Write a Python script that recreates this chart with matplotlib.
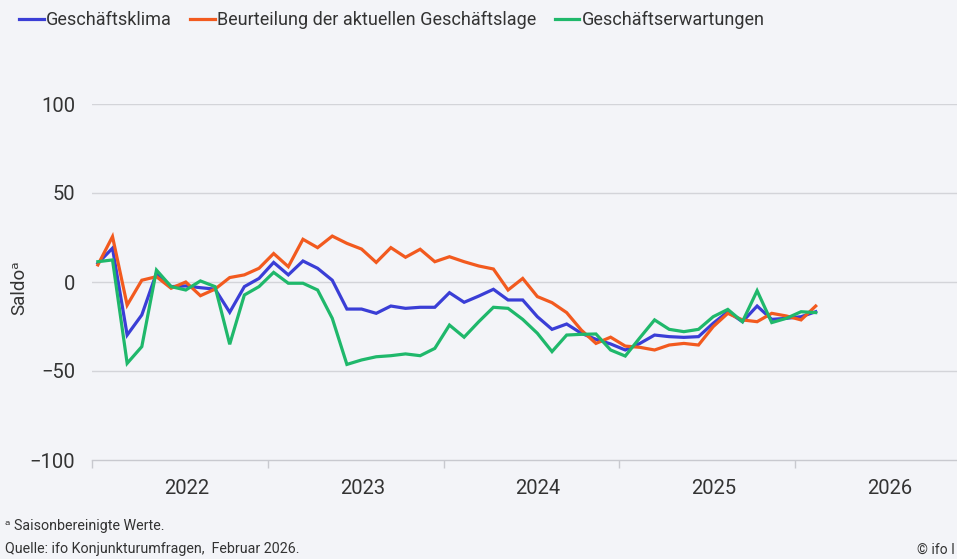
import matplotlib
matplotlib.use("Agg")
import matplotlib.pyplot as plt
import numpy as np

plt.rcParams['font.family'] = ['Roboto', 'DejaVu Sans']

# Monthly values Jan 2022 .. Feb 2026
klima = [10.5, 19, -29.8, -18.5, 5.0, -2.6, -2.2, -3.2, -4, -17, -2.6, 2,
         11, 4, 11.8, 7.7, 1, -15.2, -15.2, -17.6, -13.5, -14.8, -14.2, -14.2,
         -6, -11.4, -7.9, -4.1, -10.1, -10.1, -19.5, -26.6, -23.6, -28.8, -32.2, -34.8,
         -38.2, -34.5, -29.8, -30.7, -31.1, -30.7, -23.2, -16.7, -22.3, -13.5, -21, -20.4,
         -19.5, -16.7]
lage = [9.6, 25.5, -13, 1, 3, -3.5, 0, -7.7, -4, 2.5, 4, 7.7,
        16, 8.6, 24, 19.3, 25.8, 21.7, 18.5, 11, 19.3, 13.9, 18.4, 11.4,
        14.2, 11.4, 9, 7.3, -4.5, 2, -8.2, -11.6, -17.2, -27, -34.5, -31,
        -36, -36.7, -38.2, -35.4, -34.5, -35.4, -25.1, -17.6, -21.3, -22.3, -17.6, -19.1,
        -21.3, -13.5]
erwartungen = [11.4, 12.4, -45.7, -36.3, 6.7, -2.6, -4.5, 0.6, -2.6, -35, -7.3, -2.6,
               5.4, -0.7, -0.7, -4.5, -20.4, -46.3, -43.8, -42, -41.4, -40.4, -41.4, -37.3,
               -24.2, -31, -22.3, -14.2, -14.8, -21, -28.8, -39.1, -29.8, -29.4, -29.2, -38.2,
               -41.6, -31.3, -21.3, -26.6, -27.9, -26.6, -19.5, -15.4, -22.3, -4.9, -22.8, -20.4,
               -16.7, -17.2]
series_names = ["Geschäftsklima", "Beurteilung der aktuellen Geschäftslage", "Geschäftserwartungen"]
years = ["2022", "2023", "2024", "2025", "2026"]
yticks = [-100, -50, 0, 50, 100]

colors = ["#3a3ed6", "#f25a1f", "#1fb86b"]
bg = "#f3f4f8"

fig = plt.figure(figsize=(9.57, 5.59), dpi=100, facecolor=bg)
ax = fig.add_axes([92/957, 99/559, 879/957, 356/559], facecolor=bg)

x = np.arange(len(klima)) + 0.4
for vals, name, c in zip([klima, lage, erwartungen], series_names, colors):
    ax.plot(x, vals, color=c, lw=2.3, label=name, solid_joinstyle='miter')

ax.set_xlim(0, 60)
ax.set_ylim(-100, 100)
for s in ['top', 'right', 'left']:
    ax.spines[s].set_visible(False)
ax.spines['bottom'].set_color('#c8c9cf')
ax.spines['bottom'].set_linewidth(1.0)

ax.set_yticks(yticks)
ax.set_yticklabels([str(v).replace('-', '−') for v in yticks], fontsize=14.5, color='#333333')
ax.tick_params(axis='y', length=0, pad=12)
for v in yticks[1:]:
    ax.axhline(v, color='#d3d4d9', lw=1.0, zorder=0)

ax.set_xticks([0, 12, 24, 36, 48])
ax.set_xticklabels([])
ax.tick_params(axis='x', which='major', length=6, color='#c8c9cf', width=1.0)
ax.set_xticks([6.45, 18.45, 30.45, 42.45, 54.45], minor=True)
ax.set_xticklabels(years, minor=True, fontsize=14.5, color='#333333')
ax.tick_params(axis='x', which='minor', length=0, pad=14)

fig.text(19/957, 1 - 288/559, "Saldoᵃ", rotation=90, ha='center', va='center',
         fontsize=13.5, color='#333333')

leg = fig.legend(loc='upper left', bbox_to_anchor=(12/957, 1 - 4/559), ncol=3, frameon=False,
                 fontsize=13, handlelength=1.35, handletextpad=0.15, columnspacing=1.0,
                 borderaxespad=0)
for t in leg.get_texts():
    t.set_color('#333333')

fig.text(5/957, 1 - 526/559, "ᵃ Saisonbereinigte Werte.", fontsize=10.3, va='center', color='#333333')
fig.text(5/957, 1 - 549/559, "Quelle: ifo Konjunkturumfragen,  Februar 2026.", fontsize=10.3,
         va='center', color='#333333')
fig.text(955/957, 1 - 550/559, "© ifo I", fontsize=10, va='center', ha='right', color='#333333')

fig.savefig("out.png", dpi=100, facecolor=bg)
